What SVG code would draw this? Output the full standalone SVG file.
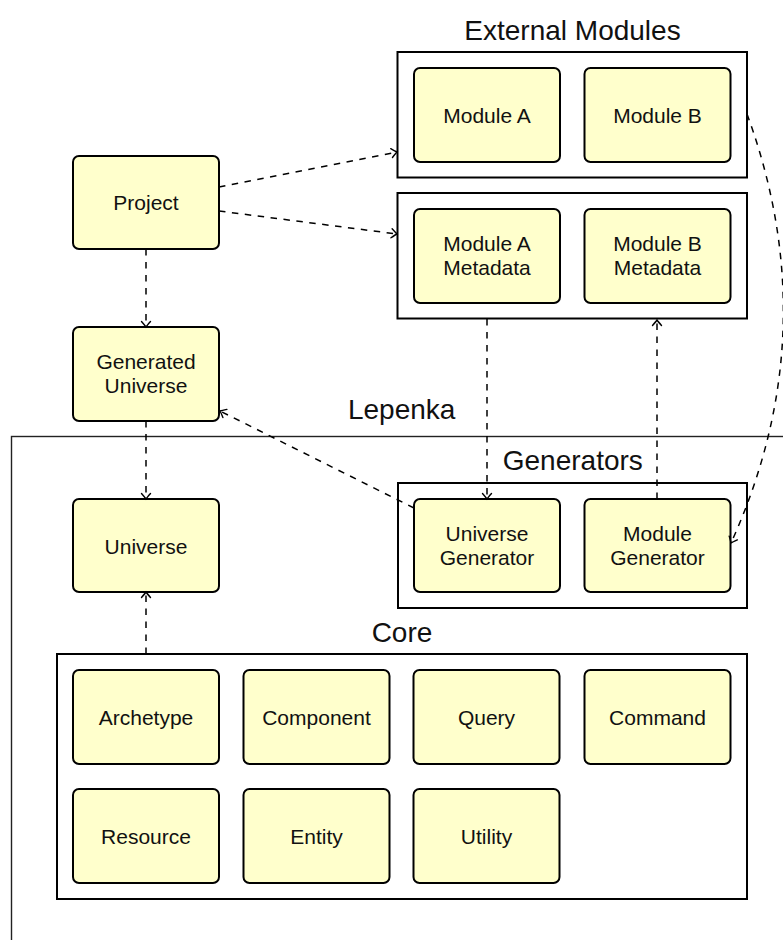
<svg xmlns="http://www.w3.org/2000/svg" width="783" height="940" viewBox="0 0 783 940">
<style>
.node rect{fill:#ffffcc;stroke:#000;stroke-width:2}
.frame{fill:none;stroke:#000;stroke-width:2}
.outer{fill:none;stroke:#222;stroke-width:1.4}
text{font-family:"Liberation Sans",Arial,sans-serif;fill:#111;text-anchor:middle}
.lbl{font-size:21px}
.ttl{font-size:28px}
.conn path,.conn line{fill:none;stroke:#000;stroke-width:1.5;stroke-dasharray:6.5 6.5}
</style>
<defs>
<marker id="to" viewBox="-8 -6 10 12" markerWidth="10" markerHeight="12" refX="0" refY="0" orient="auto" markerUnits="userSpaceOnUse">
<path d="M-5.5,-4.5 Q-1.5,-1 0,0 Q-1.5,1 -5.5,4.5" fill="none" stroke="#000" stroke-width="1.4" stroke-linecap="round"/>
</marker>
</defs>
<rect width="783" height="940" fill="#fff"/>

<g id="lepenka">
<rect class="outer" x="11.5" y="436.5" width="800" height="600"/>
<text class="ttl" x="401.7" y="418.5">Lepenka</text>
</g>

<g id="external-modules">
<rect class="frame" x="397.5" y="52" width="349.5" height="125.5"/>
<text class="ttl" x="572.5" y="39.5">External Modules</text>
</g>
<g id="metadata-frame">
<rect class="frame" x="397.5" y="193" width="349.5" height="125.5"/>
</g>
<g id="generators">
<rect class="frame" x="398" y="483" width="349" height="125"/>
<text class="ttl" x="572.8" y="470">Generators</text>
</g>
<g id="core">
<rect class="frame" x="57" y="654" width="690" height="245"/>
<text class="ttl" x="402" y="641.7">Core</text>
</g>

<g id="project" class="node"><rect x="73" y="156" width="146" height="93" rx="6"/><text class="lbl" x="146" y="210">Project</text></g>
<g id="generated-universe" class="node"><rect x="73" y="327" width="146" height="94" rx="6"/><text class="lbl" x="146" y="369">Generated</text><text class="lbl" x="146" y="393">Universe</text></g>
<g id="universe" class="node"><rect x="73" y="499" width="146" height="93" rx="6"/><text class="lbl" x="146" y="553.5">Universe</text></g>

<g id="module-a" class="node"><rect x="414" y="68" width="146" height="94" rx="6"/><text class="lbl" x="487" y="122.7">Module A</text></g>
<g id="module-b" class="node"><rect x="584.5" y="68" width="146" height="94" rx="6"/><text class="lbl" x="657.5" y="122.7">Module B</text></g>
<g id="module-a-metadata" class="node"><rect x="414" y="209" width="146" height="94" rx="6"/><text class="lbl" x="487" y="251">Module A</text><text class="lbl" x="487" y="275">Metadata</text></g>
<g id="module-b-metadata" class="node"><rect x="584.5" y="209" width="146" height="94" rx="6"/><text class="lbl" x="657.5" y="251">Module B</text><text class="lbl" x="657.5" y="275">Metadata</text></g>

<g id="universe-generator" class="node"><rect x="414" y="499" width="146" height="93" rx="6"/><text class="lbl" x="487" y="541">Universe</text><text class="lbl" x="487" y="565">Generator</text></g>
<g id="module-generator" class="node"><rect x="584.5" y="499" width="146" height="93" rx="6"/><text class="lbl" x="657.5" y="541">Module</text><text class="lbl" x="657.5" y="565">Generator</text></g>

<g id="archetype" class="node"><rect x="73" y="670" width="146" height="94" rx="6"/><text class="lbl" x="146" y="725">Archetype</text></g>
<g id="component" class="node"><rect x="243.5" y="670" width="146" height="94" rx="6"/><text class="lbl" x="316.5" y="725">Component</text></g>
<g id="query" class="node"><rect x="413.5" y="670" width="146" height="94" rx="6"/><text class="lbl" x="486.5" y="725">Query</text></g>
<g id="command" class="node"><rect x="584.5" y="670" width="146" height="94" rx="6"/><text class="lbl" x="657.5" y="725">Command</text></g>
<g id="resource" class="node"><rect x="73" y="789" width="146" height="94" rx="6"/><text class="lbl" x="146" y="844">Resource</text></g>
<g id="entity" class="node"><rect x="243.5" y="789" width="146" height="94" rx="6"/><text class="lbl" x="316.5" y="844">Entity</text></g>
<g id="utility" class="node"><rect x="413.5" y="789" width="146" height="94" rx="6"/><text class="lbl" x="486.5" y="844">Utility</text></g>

<g id="connectors" class="conn">
<line x1="219" y1="187" x2="397" y2="152" marker-end="url(#to)"/>
<line x1="219" y1="211" x2="397" y2="234" marker-end="url(#to)"/>
<line x1="146" y1="249" x2="146" y2="327" marker-end="url(#to)"/>
<line x1="146" y1="421" x2="146" y2="499" marker-end="url(#to)"/>
<line x1="146" y1="654" x2="146" y2="592" marker-end="url(#to)"/>
<line x1="414" y1="508" x2="220" y2="411" marker-end="url(#to)"/>
<line x1="487" y1="319" x2="487" y2="499" marker-end="url(#to)"/>
<line x1="657" y1="499" x2="657" y2="320" marker-end="url(#to)"/>
<path d="M747,114 Q827,332 731,543" marker-end="url(#to)"/>
</g>
</svg>
